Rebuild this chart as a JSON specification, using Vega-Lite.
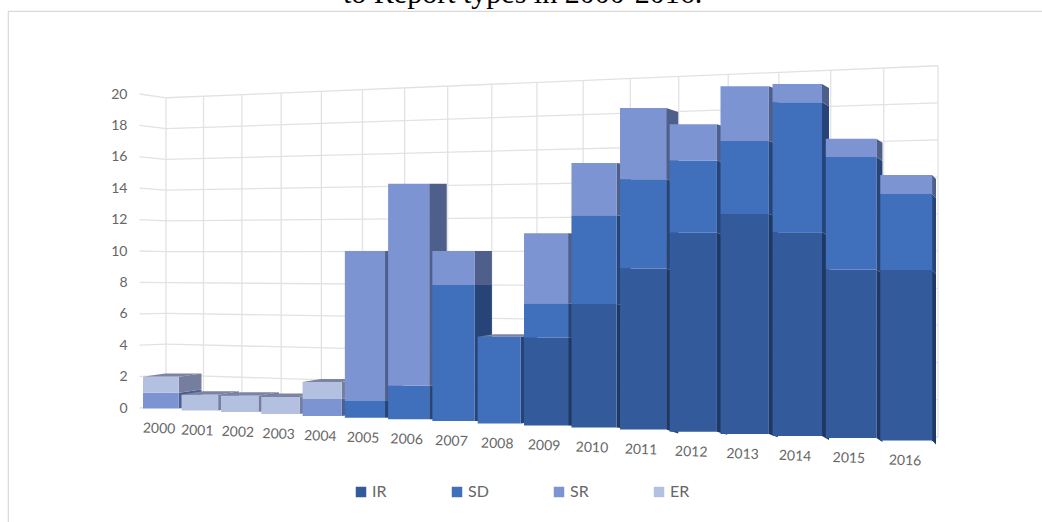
{
"$schema":"https://vega.github.io/schema/vega-lite/v6.json",
"width":1040,"height":520,
"autosize":{"type":"none"},
"padding":{"left":8,"top":11,"right":0,"bottom":0},
"background":"white",
"config":{"view":{"stroke":"#d9d9d9","strokeWidth":1.2}},
"title":{"text":"to Report types in 2000-2016.","font":"Liberation Serif","fontSize":30,"fontWeight":"normal","color":"#000000","anchor":"start","frame":"group","offset":2.3,"dx":335},
"datasets":{
"grid":[
{"x":1999.28,"x2":2000,"y":20,"y2":19.76},{"x":1999.28,"x2":2000,"y":18,"y2":17.8},{"x":1999.28,"x2":2000,"y":16,"y2":15.84},{"x":1999.28,"x2":2000,"y":14,"y2":13.88},{"x":1999.28,"x2":2000,"y":12,"y2":11.92},{"x":1999.28,"x2":2000,"y":10,"y2":9.96},{"x":1999.28,"x2":2000,"y":8,"y2":7.99},{"x":1999.28,"x2":2000,"y":6,"y2":6.03},{"x":1999.28,"x2":2000,"y":4,"y2":4.07},{"x":1999.28,"x2":2000,"y":2,"y2":2.11},{"x":1999.28,"x2":2000,"y":0,"y2":0.15},
{"x":2000,"x2":2017,"y":19.76,"y2":21.8},{"x":2000,"x2":2017,"y":17.8,"y2":19.44},{"x":2000,"x2":2017,"y":15.84,"y2":17.08},{"x":2000,"x2":2017,"y":13.88,"y2":14.71},{"x":2000,"x2":2017,"y":11.92,"y2":12.35},{"x":2000,"x2":2017,"y":9.96,"y2":9.99},{"x":2000,"x2":2017,"y":7.99,"y2":7.62},{"x":2000,"x2":2017,"y":6.03,"y2":5.26},{"x":2000,"x2":2017,"y":4.07,"y2":2.9},{"x":2000,"x2":2017,"y":2.11,"y2":0.54},{"x":2000,"x2":2017,"y":0.15,"y2":-1.83},
{"x":2000,"x2":2000,"y":19.76,"y2":0.15},{"x":2001,"x2":2001,"y":19.86,"y2":0.05},{"x":2002,"x2":2002,"y":19.96,"y2":-0.04},{"x":2003,"x2":2003,"y":20.06,"y2":-0.14},{"x":2004,"x2":2004,"y":20.17,"y2":-0.25},{"x":2005,"x2":2005,"y":20.28,"y2":-0.35},{"x":2006,"x2":2006,"y":20.39,"y2":-0.46},{"x":2007,"x2":2007,"y":20.51,"y2":-0.57},{"x":2008,"x2":2008,"y":20.62,"y2":-0.68},{"x":2009,"x2":2009,"y":20.74,"y2":-0.8},{"x":2010,"x2":2010,"y":20.86,"y2":-0.92},{"x":2011,"x2":2011,"y":20.99,"y2":-1.04},{"x":2012,"x2":2012,"y":21.12,"y2":-1.16},{"x":2013,"x2":2013,"y":21.24,"y2":-1.29},{"x":2014,"x2":2014,"y":21.38,"y2":-1.42},{"x":2015,"x2":2015,"y":21.52,"y2":-1.55},{"x":2016,"x2":2016,"y":21.66,"y2":-1.68},{"x":2017,"x2":2017,"y":21.8,"y2":-1.83},
{"x":2016.87,"x2":2017,"y":-2.12,"y2":-1.83}
],
"sides":[
{"k":"00SR","series":"SR","x":2000.93,"low":-0.03,"high":0.97},{"k":"00SR","series":"SR","x":2001.51,"low":0.18,"high":1.18},
{"k":"00ER","series":"ER","x":2000.93,"low":0.97,"high":1.99},{"k":"00ER","series":"ER","x":2001.51,"low":1.18,"high":2.2},
{"k":"01ER","series":"ER","x":2001.93,"low":-0.16,"high":0.85},{"k":"01ER","series":"ER","x":2002.45,"low":0.06,"high":1.07},
{"k":"02ER","series":"ER","x":2002.93,"low":-0.25,"high":0.78},{"k":"02ER","series":"ER","x":2003.43,"low":-0.03,"high":1.0},
{"k":"03ER","series":"ER","x":2003.93,"low":-0.38,"high":0.7},{"k":"03ER","series":"ER","x":2004.38,"low":-0.16,"high":0.92},
{"k":"04SR","series":"SR","x":2004.93,"low":-0.51,"high":0.57},{"k":"04SR","series":"SR","x":2005.36,"low":-0.33,"high":0.75},
{"k":"04ER","series":"ER","x":2004.93,"low":0.57,"high":1.66},{"k":"04ER","series":"ER","x":2005.36,"low":0.75,"high":1.84},
{"k":"05SD","series":"SD","x":2005.93,"low":-0.62,"high":0.45},{"k":"05SD","series":"SD","x":2006.34,"low":-0.6,"high":0.47},
{"k":"05SR","series":"SR","x":2005.93,"low":0.45,"high":10.0},{"k":"05SR","series":"SR","x":2006.34,"low":0.47,"high":10.02},
{"k":"06SD","series":"SD","x":2006.93,"low":-0.72,"high":1.42},{"k":"06SD","series":"SD","x":2007.32,"low":-0.72,"high":1.42},
{"k":"06SR","series":"SR","x":2006.93,"low":1.42,"high":14.29},{"k":"06SR","series":"SR","x":2007.32,"low":1.42,"high":14.29},
{"k":"07SD","series":"SD","x":2007.93,"low":-0.83,"high":7.83},{"k":"07SD","series":"SD","x":2008.31,"low":-0.83,"high":7.83},
{"k":"07SR","series":"SR","x":2007.93,"low":7.83,"high":10.0},{"k":"07SR","series":"SR","x":2008.31,"low":7.83,"high":10.0},
{"k":"08SD","series":"SD","x":2008.93,"low":-0.99,"high":4.54},{"k":"08SD","series":"SD","x":2009.28,"low":-0.84,"high":4.69},
{"k":"09IR","series":"IR","x":2009.93,"low":-1.11,"high":4.48},{"k":"09IR","series":"IR","x":2010.25,"low":-1.16,"high":4.43},
{"k":"09SD","series":"SD","x":2009.93,"low":4.48,"high":6.67},{"k":"09SD","series":"SD","x":2010.25,"low":4.43,"high":6.62},
{"k":"09SR","series":"SR","x":2009.93,"low":6.67,"high":11.13},{"k":"09SR","series":"SR","x":2010.25,"low":6.62,"high":11.08},
{"k":"10IR","series":"IR","x":2010.93,"low":-1.24,"high":6.62},{"k":"10IR","series":"IR","x":2011.22,"low":-1.34,"high":6.52},
{"k":"10SD","series":"SD","x":2010.93,"low":6.62,"high":12.27},{"k":"10SD","series":"SD","x":2011.22,"low":6.52,"high":12.17},
{"k":"10SR","series":"SR","x":2010.93,"low":12.27,"high":15.6},{"k":"10SR","series":"SR","x":2011.22,"low":12.17,"high":15.5},
{"k":"11IR","series":"IR","x":2011.93,"low":-1.37,"high":8.88},{"k":"11IR","series":"IR","x":2012.17,"low":-1.62,"high":8.63},
{"k":"11SD","series":"SD","x":2011.93,"low":8.88,"high":14.57},{"k":"11SD","series":"SD","x":2012.17,"low":8.63,"high":14.32},
{"k":"11SR","series":"SR","x":2011.93,"low":14.57,"high":19.11},{"k":"11SR","series":"SR","x":2012.17,"low":14.32,"high":18.86},
{"k":"12IR","series":"IR","x":2012.93,"low":-1.51,"high":11.16},{"k":"12IR","series":"IR","x":2013.13,"low":-1.71,"high":10.96},
{"k":"12SD","series":"SD","x":2012.93,"low":11.16,"high":15.77},{"k":"12SD","series":"SD","x":2013.13,"low":10.96,"high":15.57},
{"k":"12SR","series":"SR","x":2012.93,"low":15.77,"high":18.07},{"k":"12SR","series":"SR","x":2013.13,"low":15.57,"high":17.87},
{"k":"13IR","series":"IR","x":2013.93,"low":-1.66,"high":12.36},{"k":"13IR","series":"IR","x":2014.1,"low":-1.86,"high":12.16},
{"k":"13SD","series":"SD","x":2013.93,"low":12.36,"high":17.0},{"k":"13SD","series":"SD","x":2014.1,"low":12.16,"high":16.8},
{"k":"13SR","series":"SR","x":2013.93,"low":17.0,"high":20.49},{"k":"13SR","series":"SR","x":2014.1,"low":16.8,"high":20.29},
{"k":"14IR","series":"IR","x":2014.93,"low":-1.78,"high":11.19},{"k":"14IR","series":"IR","x":2015.06,"low":-2.03,"high":10.94},
{"k":"14SD","series":"SD","x":2014.93,"low":11.19,"high":19.47},{"k":"14SD","series":"SD","x":2015.06,"low":10.94,"high":19.22},
{"k":"14SR","series":"SR","x":2014.93,"low":19.47,"high":20.64},{"k":"14SR","series":"SR","x":2015.06,"low":19.22,"high":20.39},
{"k":"15IR","series":"IR","x":2015.93,"low":-1.91,"high":8.82},{"k":"15IR","series":"IR","x":2016.04,"low":-2.16,"high":8.57},
{"k":"15SD","series":"SD","x":2015.93,"low":8.82,"high":15.99},{"k":"15SD","series":"SD","x":2016.04,"low":8.57,"high":15.74},
{"k":"15SR","series":"SR","x":2015.93,"low":15.99,"high":17.15},{"k":"15SR","series":"SR","x":2016.04,"low":15.74,"high":16.9},
{"k":"16IR","series":"IR","x":2016.93,"low":-2.07,"high":8.79},{"k":"16IR","series":"IR","x":2017.0,"low":-2.32,"high":8.54},
{"k":"16SD","series":"SD","x":2016.93,"low":8.79,"high":13.63},{"k":"16SD","series":"SD","x":2017.0,"low":8.54,"high":13.38},
{"k":"16SR","series":"SR","x":2016.93,"low":13.63,"high":14.84},{"k":"16SR","series":"SR","x":2017.0,"low":13.38,"high":14.59}
],
"tops":[
{"k":"2000","x":2000,"low":1.99,"high":1.99},{"k":"2000","x":2000.58,"low":1.99,"high":2.2},{"k":"2000","x":2000.93,"low":1.99,"high":2.2},{"k":"2000","x":2001.51,"low":2.2,"high":2.2},
{"k":"2001","x":2001,"low":0.85,"high":0.85},{"k":"2001","x":2001.52,"low":0.85,"high":1.07},{"k":"2001","x":2001.93,"low":0.85,"high":1.07},{"k":"2001","x":2002.45,"low":1.07,"high":1.07},
{"k":"2002","x":2002,"low":0.78,"high":0.78},{"k":"2002","x":2002.5,"low":0.78,"high":1.0},{"k":"2002","x":2002.93,"low":0.78,"high":1.0},{"k":"2002","x":2003.43,"low":1.0,"high":1.0},
{"k":"2003","x":2003,"low":0.7,"high":0.7},{"k":"2003","x":2003.45,"low":0.7,"high":0.92},{"k":"2003","x":2003.93,"low":0.7,"high":0.92},{"k":"2003","x":2004.38,"low":0.92,"high":0.92},
{"k":"2004","x":2004,"low":1.66,"high":1.66},{"k":"2004","x":2004.43,"low":1.66,"high":1.84},{"k":"2004","x":2004.93,"low":1.66,"high":1.84},{"k":"2004","x":2005.36,"low":1.84,"high":1.84},
{"k":"2008","x":2008,"low":4.54,"high":4.54},{"k":"2008","x":2008.35,"low":4.54,"high":4.69},{"k":"2008","x":2008.93,"low":4.54,"high":4.69},{"k":"2008","x":2009.28,"low":4.69,"high":4.69}
],
"bars":[
{"year":2000,"series":"SR","start":2000,"end":2000.93,"low":-0.03,"high":0.97},{"year":2000,"series":"ER","start":2000,"end":2000.93,"low":0.97,"high":1.99},
{"year":2001,"series":"ER","start":2001,"end":2001.93,"low":-0.16,"high":0.85},
{"year":2002,"series":"ER","start":2002,"end":2002.93,"low":-0.25,"high":0.78},
{"year":2003,"series":"ER","start":2003,"end":2003.93,"low":-0.38,"high":0.7},
{"year":2004,"series":"SR","start":2004,"end":2004.93,"low":-0.51,"high":0.57},{"year":2004,"series":"ER","start":2004,"end":2004.93,"low":0.57,"high":1.66},
{"year":2005,"series":"SD","start":2005,"end":2005.93,"low":-0.62,"high":0.45},{"year":2005,"series":"SR","start":2005,"end":2005.93,"low":0.45,"high":10.0},
{"year":2006,"series":"SD","start":2006,"end":2006.93,"low":-0.72,"high":1.42},{"year":2006,"series":"SR","start":2006,"end":2006.93,"low":1.42,"high":14.29},
{"year":2007,"series":"SD","start":2007,"end":2007.93,"low":-0.83,"high":7.83},{"year":2007,"series":"SR","start":2007,"end":2007.93,"low":7.83,"high":10.0},
{"year":2008,"series":"SD","start":2008,"end":2008.93,"low":-0.99,"high":4.54},
{"year":2009,"series":"IR","start":2009,"end":2009.93,"low":-1.11,"high":4.48},{"year":2009,"series":"SD","start":2009,"end":2009.93,"low":4.48,"high":6.67},{"year":2009,"series":"SR","start":2009,"end":2009.93,"low":6.67,"high":11.13},
{"year":2010,"series":"IR","start":2010,"end":2010.93,"low":-1.24,"high":6.62},{"year":2010,"series":"SD","start":2010,"end":2010.93,"low":6.62,"high":12.27},{"year":2010,"series":"SR","start":2010,"end":2010.93,"low":12.27,"high":15.6},
{"year":2011,"series":"IR","start":2011,"end":2011.93,"low":-1.37,"high":8.88},{"year":2011,"series":"SD","start":2011,"end":2011.93,"low":8.88,"high":14.57},{"year":2011,"series":"SR","start":2011,"end":2011.93,"low":14.57,"high":19.11},
{"year":2012,"series":"IR","start":2012,"end":2012.93,"low":-1.51,"high":11.16},{"year":2012,"series":"SD","start":2012,"end":2012.93,"low":11.16,"high":15.77},{"year":2012,"series":"SR","start":2012,"end":2012.93,"low":15.77,"high":18.07},
{"year":2013,"series":"IR","start":2013,"end":2013.93,"low":-1.66,"high":12.36},{"year":2013,"series":"SD","start":2013,"end":2013.93,"low":12.36,"high":17.0},{"year":2013,"series":"SR","start":2013,"end":2013.93,"low":17.0,"high":20.49},
{"year":2014,"series":"IR","start":2014,"end":2014.93,"low":-1.78,"high":11.19},{"year":2014,"series":"SD","start":2014,"end":2014.93,"low":11.19,"high":19.47},{"year":2014,"series":"SR","start":2014,"end":2014.93,"low":19.47,"high":20.64},
{"year":2015,"series":"IR","start":2015,"end":2015.93,"low":-1.91,"high":8.82},{"year":2015,"series":"SD","start":2015,"end":2015.93,"low":8.82,"high":15.99},{"year":2015,"series":"SR","start":2015,"end":2015.93,"low":15.99,"high":17.15},
{"year":2016,"series":"IR","start":2016,"end":2016.93,"low":-2.07,"high":8.79},{"year":2016,"series":"SD","start":2016,"end":2016.93,"low":8.79,"high":13.63},{"year":2016,"series":"SR","start":2016,"end":2016.93,"low":13.63,"high":14.84}
],
"labels":[
{"year":"2000","mid":2000.44,"base":-0.03},{"year":"2001","mid":2001.42,"base":-0.16},{"year":"2002","mid":2002.44,"base":-0.25},{"year":"2003","mid":2003.44,"base":-0.38},{"year":"2004","mid":2004.44,"base":-0.51},{"year":"2005","mid":2005.44,"base":-0.62},{"year":"2006","mid":2006.44,"base":-0.72},{"year":"2007","mid":2007.44,"base":-0.83},{"year":"2008","mid":2008.44,"base":-0.99},{"year":"2009","mid":2009.44,"base":-1.11},{"year":"2010","mid":2010.44,"base":-1.24},{"year":"2011","mid":2011.44,"base":-1.37},{"year":"2012","mid":2012.44,"base":-1.51},{"year":"2013","mid":2013.44,"base":-1.66},{"year":"2014","mid":2014.44,"base":-1.78},{"year":"2015","mid":2015.44,"base":-1.91},{"year":"2016","mid":2016.46,"base":-2.07}
]
},
"resolve":{"scale":{"x":"independent","color":"independent"},"axis":{"y":"independent"}},
"layer":[
{"data":{"name":"grid"},
 "mark":{"type":"rule","color":"#e2e2e2","strokeWidth":1.3},
 "encoding":{
  "x":{"field":"x","type":"quantitative","axis":null,"scale":{"type":"pow","exponent":47.4,"domain":[2000,2017],"range":[158,930],"zero":false,"nice":false}},
  "x2":{"field":"x2"},
  "y":{"field":"y","type":"quantitative","scale":{"domain":[-7.834,25.287],"zero":false,"nice":false},
   "axis":{"title":null,"values":[0,2,4,6,8,10,12,14,16,18,20],"grid":false,"domain":false,"ticks":false,"offset":-119,"labelPadding":0,"labelFont":"Lato","labelFontSize":14,"labelColor":"#666666"}},
  "y2":{"field":"y2"}
 }},
{"data":{"name":"sides"},
 "mark":{"type":"area","interpolate":"linear"},
 "encoding":{
  "x":{"field":"x","type":"quantitative","axis":null,"scale":{"type":"pow","exponent":47.4,"domain":[2000,2017],"range":[135,928],"zero":false,"nice":false}},
  "y":{"field":"low","type":"quantitative","axis":null},
  "y2":{"field":"high"},
  "detail":{"field":"k"},
  "color":{"field":"series","type":"nominal","legend":null,"scale":{"domain":["IR","SD","SR","ER"],"range":["#1f3764","#264478","#4f5f8c","#757f9d"]}}
 }},
{"data":{"name":"tops"},
 "mark":{"type":"area","interpolate":"linear","color":"#7a84a3"},
 "encoding":{
  "x":{"field":"x","type":"quantitative","axis":null,"scale":{"type":"pow","exponent":47.4,"domain":[2000,2017],"range":[135,928],"zero":false,"nice":false}},
  "y":{"field":"low","type":"quantitative","axis":null},
  "y2":{"field":"high"},
  "detail":{"field":"k"}
 }},
{"data":{"name":"bars"},
 "mark":{"type":"rect"},
 "encoding":{
  "x":{"field":"start","type":"quantitative","axis":null,"scale":{"type":"pow","exponent":47.4,"domain":[2000,2017],"range":[135,928],"zero":false,"nice":false}},
  "x2":{"field":"end"},
  "y":{"field":"low","type":"quantitative","axis":null},
  "y2":{"field":"high"},
  "color":{"field":"series","type":"nominal","scale":{"domain":["IR","SD","SR","ER"],"range":["#335a9b","#406fbc","#7d94d3","#b3c0e0"]},
   "legend":{"title":null,"orient":"none","legendX":345,"legendY":473,"direction":"horizontal","columns":4,"gridAlign":"each","columnPadding":62,"padding":0,"symbolType":"square","symbolSize":110,"symbolStrokeWidth":0,"symbolOpacity":1,"labelFont":"Lato","labelFontSize":16,"labelColor":"#666666","labelOffset":3}}
 }},
{"data":{"name":"labels"},
 "mark":{"type":"text","font":"Lato","fontSize":14,"color":"#666666","dy":20.5,"angle":2,"baseline":"middle"},
 "encoding":{
  "x":{"field":"mid","type":"quantitative","axis":null,"scale":{"type":"pow","exponent":47.4,"domain":[2000,2017],"range":[135,928],"zero":false,"nice":false}},
  "y":{"field":"base","type":"quantitative","axis":null},
  "text":{"field":"year"}
 }}
]
}
